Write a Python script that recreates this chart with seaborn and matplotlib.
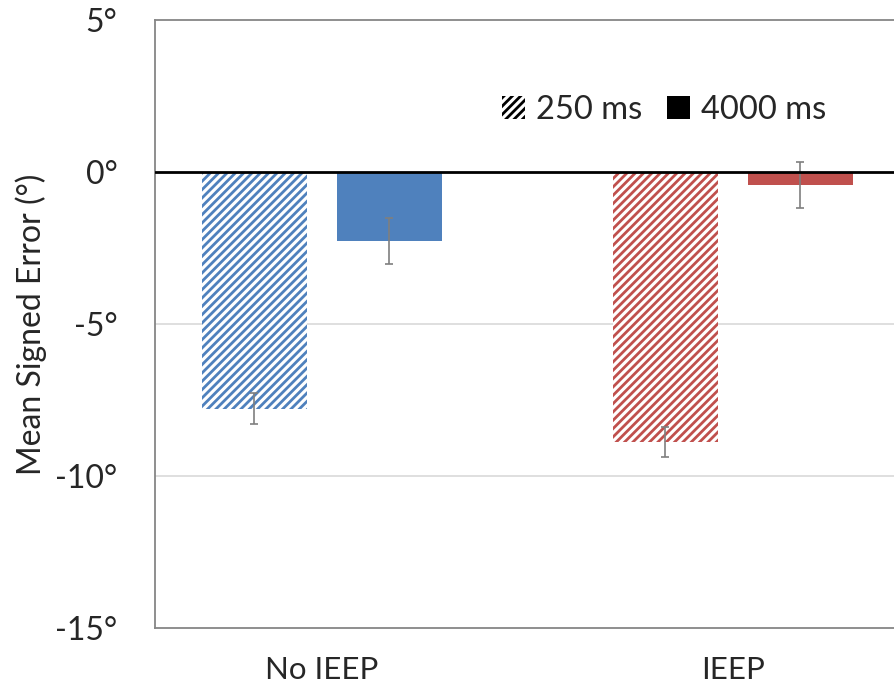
import matplotlib
matplotlib.use("Agg")
import matplotlib.pyplot as plt
from matplotlib.patches import Patch
import seaborn as sns
import pandas as pd

conditions = ["No IEEP", "IEEP"]
durations = ["250 ms", "4000 ms"]
mean_250 = [-7.78, -8.88]
mean_4000 = [-2.27, -0.42]
err_250 = [0.5, 0.5]
err_4000 = [0.77, 0.76]
yticks = [5, 0, -5, -10, -15]
ytick_labels = ["5°", "0°", "-5°", "-10°", "-15°"]

cond_colors = {"No IEEP": "#4F81BD", "IEEP": "#C0504D"}

sns.set_theme(style="white")
plt.rcParams["font.family"] = ["Lato", "DejaVu Sans"]
plt.rcParams["hatch.linewidth"] = 2.0

df = pd.DataFrame({
    "cond": conditions * 2,
    "dur": [durations[0]] * 2 + [durations[1]] * 2,
    "val": mean_250 + mean_4000,
    "err": err_250 + err_4000,
})

fig = plt.figure(figsize=(8.94, 6.94), dpi=100)
ax = fig.add_axes([155/894, 66/694, 1 - 155/894, 608/694])

sns.barplot(data=df, x="cond", y="val", hue="dur", order=conditions,
            hue_order=durations, width=0.657, gap=0.22, legend=False,
            errorbar=None, ax=ax, zorder=2)

for p, (_, row) in zip(list(ax.patches), df.iterrows()):
    col = cond_colors[row["cond"]]
    if row["dur"] == "250 ms":
        p.set_facecolor("white")
        p.set_edgecolor(col)
        p.set_hatch("////")
        p.set_linewidth(0)
    else:
        p.set_facecolor(col)
        p.set_edgecolor(col)
        p.set_linewidth(0)
    cx = p.get_x() + p.get_width() / 2
    ax.errorbar(cx, row["val"], yerr=row["err"], fmt="none",
                ecolor="#7f7f7f", elinewidth=1.2, capsize=2.6,
                capthick=1.2, zorder=3)

ax.axhline(0, color="black", lw=2, zorder=4)
ax.set_ylim(-15, 5)
ax.set_xlim(-0.406, 1.392)
ax.set_yticks(yticks)
ax.set_yticklabels(ytick_labels)
for y in [-5, -10]:
    ax.axhline(y, color="#d9d9d9", lw=1.2, zorder=0)

for s in ["top", "left", "bottom"]:
    ax.spines[s].set_color("#868686")
    ax.spines[s].set_linewidth(1.3)
ax.spines["right"].set_visible(False)

ax.tick_params(axis="y", length=0, pad=27, labelsize=23)
ax.tick_params(axis="x", length=0, pad=20, labelsize=22.5)
ax.set_xlabel("")
ax.set_ylabel("Mean Signed Error (°)", fontsize=23, labelpad=6)

handles = [Patch(facecolor="white", edgecolor="black", hatch="////", linewidth=0),
           Patch(facecolor="black", edgecolor="black", linewidth=0)]
leg = fig.legend(handles, durations, loc="center", bbox_to_anchor=(664/894, 1 - 110/694),
                 ncol=2, frameon=False, fontsize=23.5, handlelength=0.7,
                 handleheight=0.7, handletextpad=0.35, columnspacing=0.75)

fig.savefig("out.png", dpi=100)
